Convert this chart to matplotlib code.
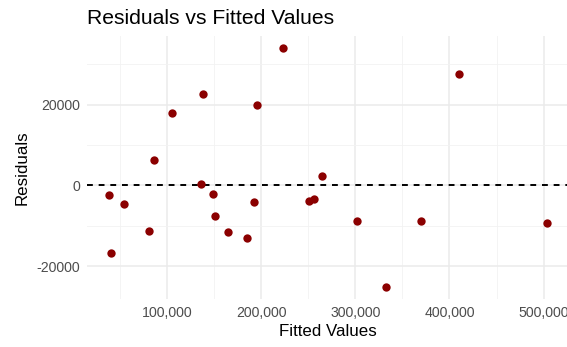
import matplotlib
matplotlib.use("Agg")
import matplotlib.pyplot as plt
from matplotlib.ticker import FuncFormatter, MultipleLocator

fitted = [38200, 40400, 54100, 81200, 86200, 105600, 136000, 138500, 149000,
          150800, 165400, 185500, 192900, 195700, 223600, 250800, 256100,
          264600, 302000, 332700, 370100, 410000, 503900]
residuals = [-2330, -16700, -4630, -11400, 6340, 17900, 400, 22550, -2230,
             -7600, -11570, -12980, -4060, 19900, 34100, -3890, -3470,
             2380, -8770, -25130, -8920, 27650, -9340]

W, H = 567, 347
fig = plt.figure(figsize=(W / 100, H / 100), dpi=100)
plt.rcParams['font.family'] = ['Liberation Sans', 'DejaVu Sans']

left, right, top, bottom = 86.7, 569.3, 35.7, 298.7
ax = fig.add_axes([left / W, 1 - bottom / H, (right - left) / W, (bottom - top) / H])

xmin, xmax = min(fitted), max(fitted)
ymin, ymax = min(residuals), max(residuals)
dx, dy = (xmax - xmin) * 0.05, (ymax - ymin) * 0.05
ax.set_xlim(xmin - dx, xmax + dx)
ax.set_ylim(ymin - dy, ymax + dy)

ax.xaxis.set_major_locator(MultipleLocator(100000))
ax.xaxis.set_minor_locator(MultipleLocator(50000))
ax.yaxis.set_major_locator(MultipleLocator(20000))
ax.yaxis.set_minor_locator(MultipleLocator(10000))
ax.xaxis.set_major_formatter(FuncFormatter(lambda v, p: f"{int(v):,}"))
ax.yaxis.set_major_formatter(FuncFormatter(lambda v, p: f"{int(v)}"))

ax.grid(which='major', color='#EBEBEB', linewidth=1.1)
ax.grid(which='minor', color='#F2F2F2', linewidth=0.6)
ax.set_axisbelow(True)
for s in ax.spines.values():
    s.set_visible(False)
ax.tick_params(which='both', length=0)
ax.tick_params(axis='both', labelsize=10.2, labelcolor='#4D4D4D', pad=5)

ax.axhline(0, color='black', linestyle=(0, (3, 3)), linewidth=1.4, zorder=2)
ax.scatter(fitted, residuals, s=36, color='#8B0000', zorder=3, linewidths=0)

ax.set_xlabel("Fitted Values", fontsize=12.2, color='black', labelpad=3)
ax.set_ylabel("Residuals", fontsize=12.2, color='black', labelpad=5)
fig.text(left / W, 1 - 9 / H, "Residuals vs Fitted Values", fontsize=15.2,
         ha='left', va='top', color='black')

fig.savefig("out.png", dpi=100)
